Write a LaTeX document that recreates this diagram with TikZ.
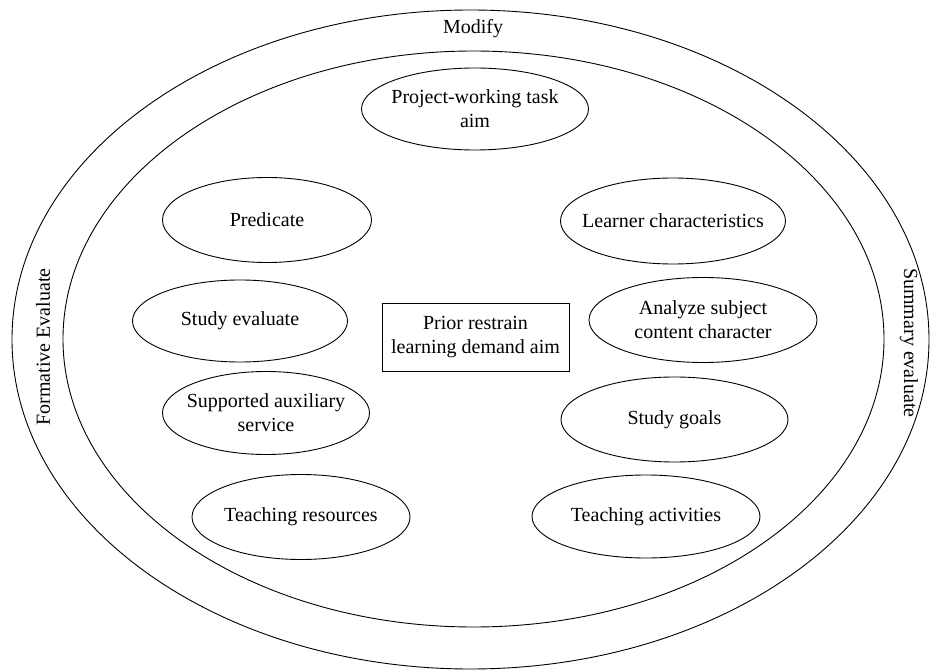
\documentclass[tikz,border=0pt]{standalone}
\usepackage{fontspec}
\setmainfont{Liberation Serif}
\usetikzlibrary{shapes.geometric,positioning}

\begin{document}
\begin{tikzpicture}[x=1pt, y=-1pt,
    every node/.style={font=\fontsize{20}{24}\selectfont, align=center},
    part/.style={ellipse, draw, line width=0.9pt, inner xsep=-20pt, inner ysep=0pt},
    core/.style={rectangle, draw, line width=0.9pt, inner sep=0pt}]
    \useasboundingbox (0,0) rectangle (930,671);

    % Rings
    \draw[line width=0.9pt] (470.5,339.5) ellipse [x radius=458.5, y radius=329.5];
    \draw[line width=0.9pt] (473.5,339) ellipse [x radius=410.5, y radius=288];
    \node (modify) at (473,29) {Modify};
    \node[rotate=90] (formative) at (43,347) {Formative Evaluate};
    \node[rotate=-90] (summary) at (909,343) {Summary evaluate};

    % Centre
    \node[core, minimum width=187pt, minimum height=68pt] (prior) at (475.5,337) {Prior restrain\\learning demand aim};

    % Parts
    \node[part, minimum width=227pt, minimum height=82pt] (project) at (475,109) {Project-working task\\aim};
    \node[part, minimum width=209pt, minimum height=85pt] (predicate) at (267,220) {Predicate};
    \node[part, minimum width=225pt, minimum height=86pt] (learner) at (673,221) {Learner characteristics};
    \node[part, minimum width=215pt, minimum height=82pt] (evaluate) at (240,321) {Study evaluate};
    \node[part, minimum width=228pt, minimum height=85pt] (analyze) at (703,320) {Analyze subject\\content character};
    \node[part, minimum width=207pt, minimum height=83pt] (service) at (266,413) {Supported auxiliary\\service};
    \node[part, minimum width=227pt, minimum height=85pt] (goals) at (674.5,419.5) {Study goals};
    \node[part, minimum width=218pt, minimum height=85pt] (resources) at (301,517) {Teaching resources};
    \node[part, minimum width=228pt, minimum height=83pt] (activities) at (646,516.5) {Teaching activities};
\end{tikzpicture}
\end{document}
